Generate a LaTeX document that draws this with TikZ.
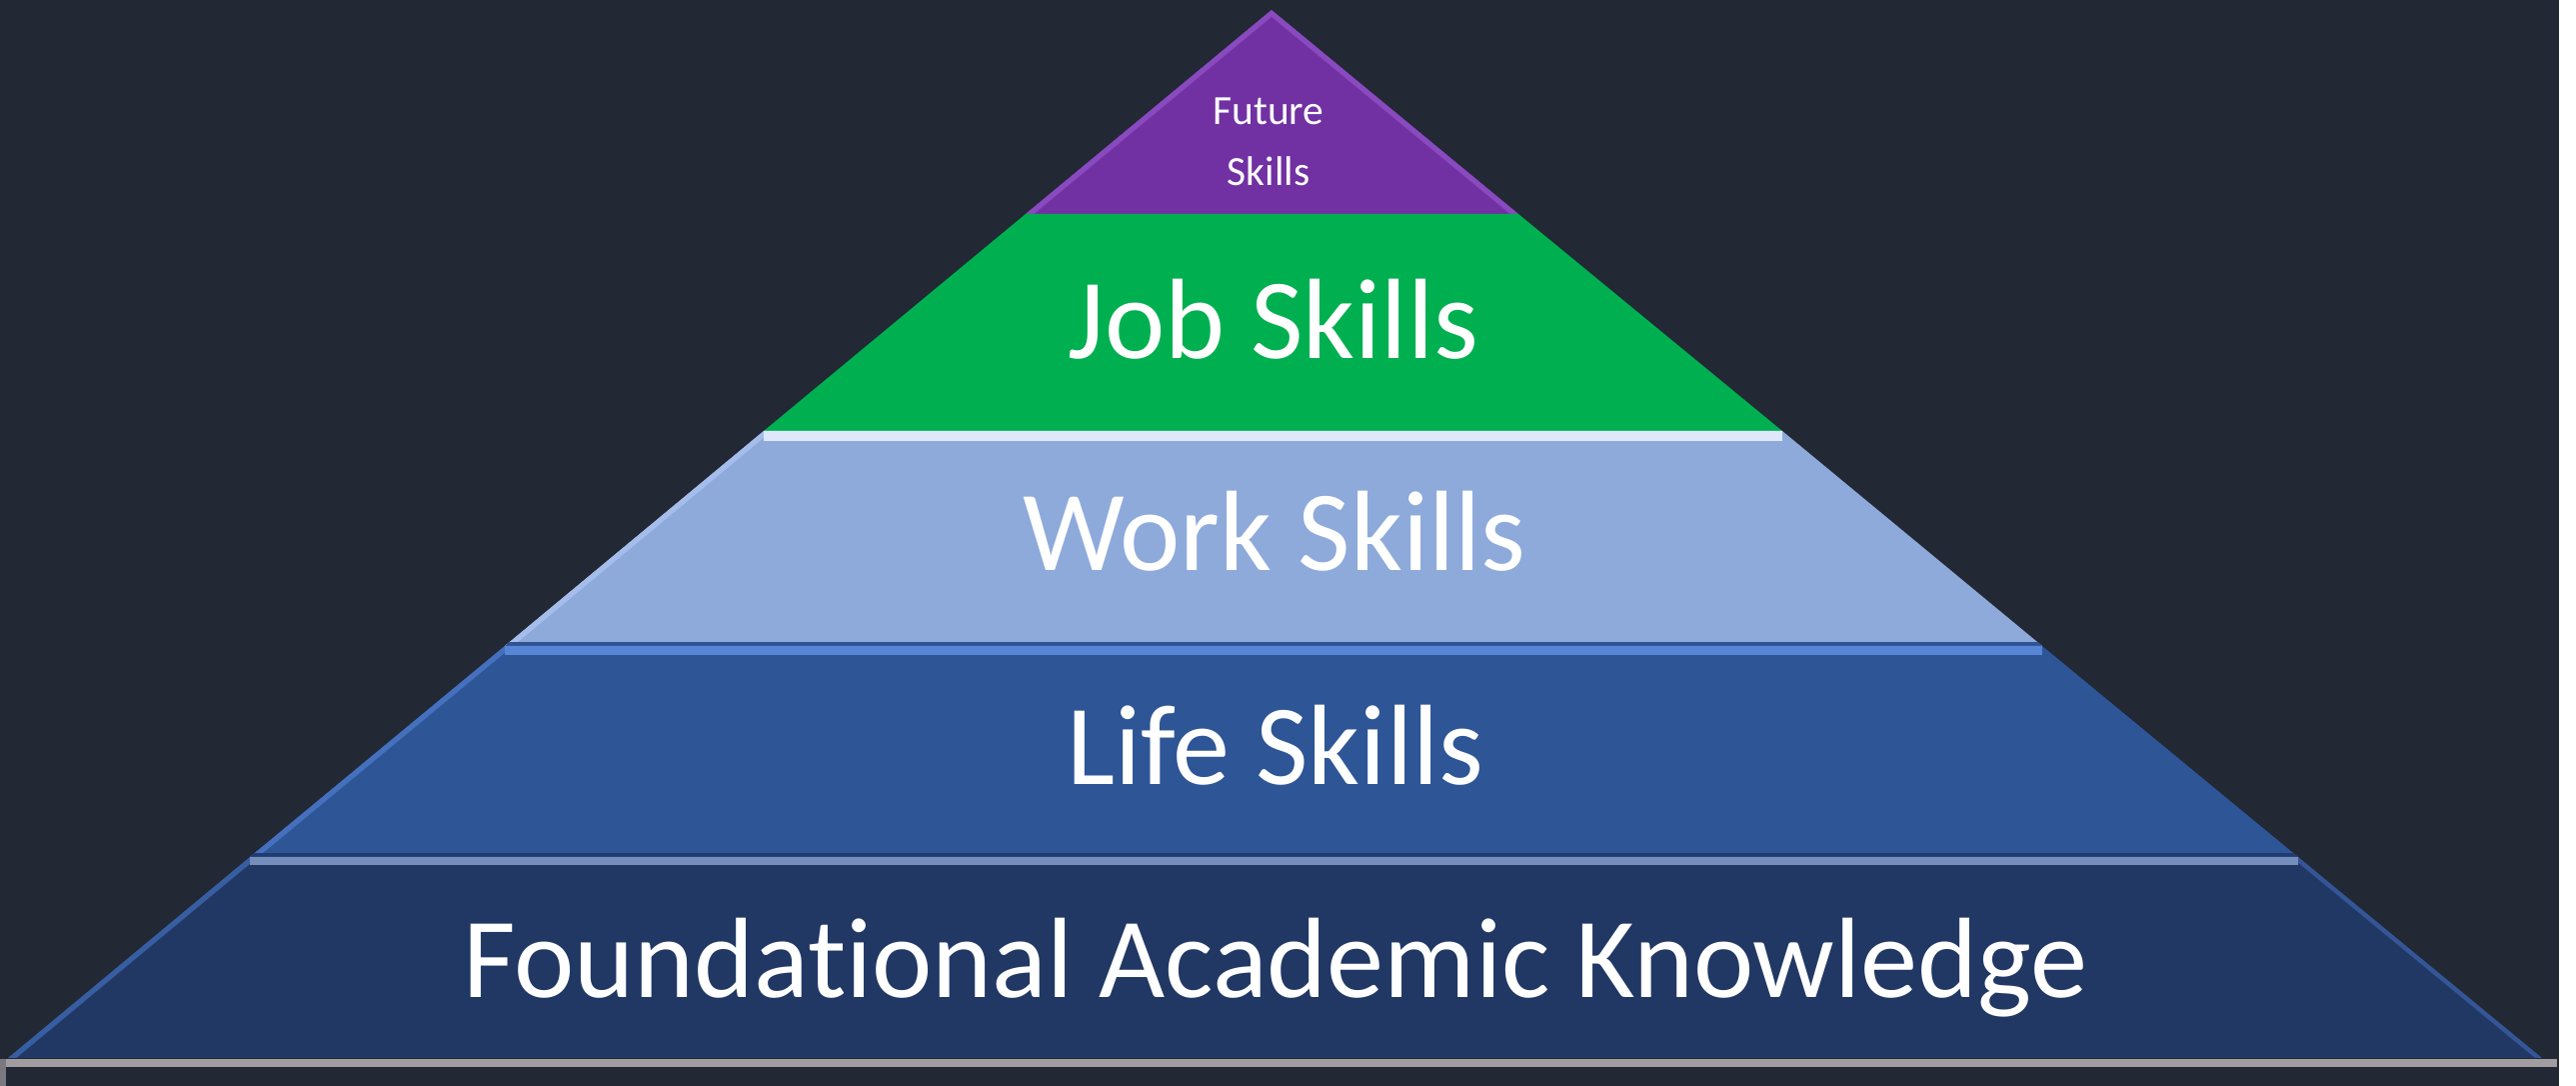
\documentclass[tikz,border=0pt]{standalone}
\usepackage{fontspec}
\setmainfont{Carlito}[Ligatures={NoCommon,NoContextual}]
\definecolor{bgdark}{RGB}{34,40,52}
\definecolor{cpurple}{RGB}{114,49,162}
\definecolor{cpurpleL}{RGB}{136,74,190}
\definecolor{cgreen}{RGB}{0,176,80}
\definecolor{cwork}{RGB}{142,170,219}
\definecolor{cworkH}{RGB}{222,232,250}
\definecolor{cworkL}{RGB}{165,189,234}
\definecolor{cworkD}{RGB}{46,82,148}
\definecolor{clife}{RGB}{46,85,150}
\definecolor{clifeH}{RGB}{88,134,214}
\definecolor{clifeL}{RGB}{68,112,190}
\definecolor{clifeD}{RGB}{30,60,112}
\definecolor{cfound}{RGB}{33,56,100}
\definecolor{cfoundH}{RGB}{118,142,188}
\definecolor{cfoundL}{RGB}{56,94,162}
\definecolor{cbase}{RGB}{160,156,160}
\tikzset{
  lbl/.style={text=white, inner sep=0pt, font=\fontsize{32.5}{39}\selectfont},
  smalllbl/.style={text=white, inner sep=0pt, font=\fontsize{11.8}{14}\selectfont},
}
\begin{document}
\begin{tikzpicture}[x=0.01cm,y=-0.01cm]
\useasboundingbox (0,0) rectangle (2577,1086);
\fill[white] (0,0) rectangle (2577,1086);
\fill[bgdark] (0,0) rectangle (2560,1086);
% corner coordinates
\coordinate (apex) at (1272,10);
\coordinate (l1) at (1026,214); \coordinate (r1) at (1519,214);
\coordinate (l2) at (764,431);  \coordinate (r2) at (1783,431);
\coordinate (l3) at (505,646);  \coordinate (r3) at (2043,646);
\coordinate (l4) at (250,857);  \coordinate (r4) at (2299,857);
\coordinate (l5) at (8,1058);   \coordinate (r5) at (2543,1058);
% purple top
\fill[cpurple] (apex) -- (r1) -- (l1) -- cycle;
\begin{scope}
  \clip (apex) -- (r1) -- (l1) -- cycle;
  \draw[cpurpleL, line width=3pt] (l1) -- (apex) -- (r1);
\end{scope}
% green
\fill[cgreen] (l1) -- (r1) -- (r2) -- (l2) -- cycle;
% work
\fill[cwork] (l2) -- (r2) -- (r3) -- (l3) -- cycle;
\begin{scope}
  \clip (l2) -- (r2) -- (r3) -- (l3) -- cycle;
  \draw[cworkL, line width=3pt] (l3) -- (l2);
  \draw[cworkH, line width=5.5pt] (l2) -- (r2);
  \draw[cworkD, line width=2pt] (l3) -- (r3);
\end{scope}
% life
\fill[clife] (l3) -- (r3) -- (r4) -- (l4) -- cycle;
\begin{scope}
  \clip (l3) -- (r3) -- (r4) -- (l4) -- cycle;
  \draw[clifeL, line width=3pt] (l4) -- (l3);
  \draw[clifeH, line width=5pt] (l3) -- (r3);
  \draw[clifeD, line width=2pt] (l4) -- (r4);
\end{scope}
% foundational
\fill[cfound] (l4) -- (r4) -- (r5) -- (l5) -- cycle;
\begin{scope}
  \clip (l4) -- (r4) -- (r5) -- (l5) -- cycle;
  \draw[cfoundL, line width=3pt] (l5) -- (l4);
  \draw[cfoundL!80!cfound, line width=2.5pt] (r4) -- (r5);
  \draw[cfoundH, line width=4.5pt] (l4) -- (r4);
\end{scope}
% base line
\fill[cbase] (0,1059) rectangle (2558,1067);
\fill[cbase!70!bgdark] (0,1059) rectangle (6,1086);
% labels
\node[smalllbl, anchor=base] (fut1) at (1269,125) {Future};
\node[smalllbl, anchor=base] (fut2) at (1269,186) {Skills};
\node[lbl, anchor=base] (job) at (1274,359) {Job Skills};
\node[lbl, anchor=base] (work) at (1275,571) {Work Skills};
\node[lbl, anchor=base] (life) at (1276,785) {Life Skills};
\node[lbl, anchor=base] (found) at (1276,998) {Foundational Academic Knowledge};
\end{tikzpicture}
\end{document}
